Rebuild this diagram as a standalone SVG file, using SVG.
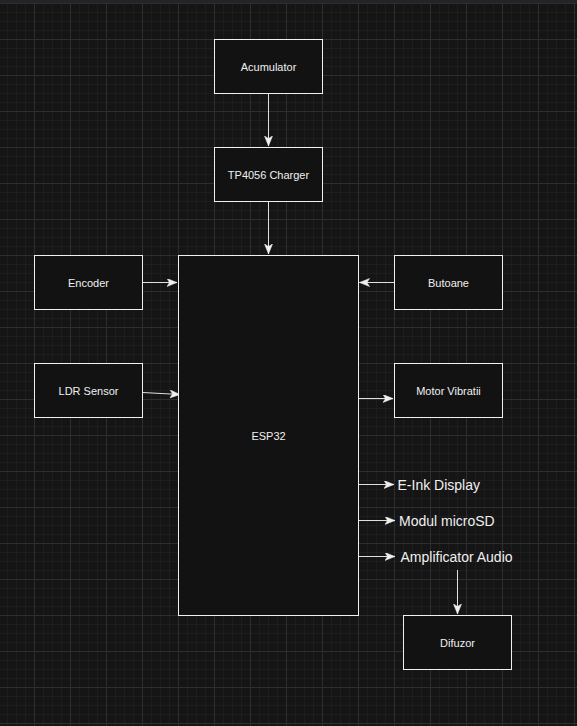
<svg xmlns="http://www.w3.org/2000/svg" width="577" height="726" viewBox="0 0 577 726">
<style>
.box{fill:#121212;stroke:#f0f0f0;stroke-width:1}
.lbl{font-family:"Liberation Sans",Arial,sans-serif;font-size:11px;fill:#f0f0f0;text-anchor:middle;dominant-baseline:central}
.free{font-family:"Liberation Sans",Arial,sans-serif;font-size:14px;fill:#f0f0f0;dominant-baseline:central}
.edge{fill:none;stroke:#e0e0e0;stroke-width:1}
</style>
<defs>
<pattern id="grid" patternUnits="userSpaceOnUse" x="34" y="39" width="36" height="36">
<path d="M9.5 0V36M18.5 0V36M27.5 0V36M0 9.5H36M0 18.5H36M0 27.5H36" stroke="#1d1d1d" stroke-width="1" fill="none"/>
<path d="M0.5 0V36M0 0.5H36" stroke="#2e2e2e" stroke-width="1" fill="none"/>
</pattern>
<marker id="arr" markerUnits="userSpaceOnUse" markerWidth="12" markerHeight="10" refX="10" refY="4" orient="auto">
<path d="M0,0 L10,4 L0,8 L2.5,4 Z" fill="#f0f0f0" stroke="#f0f0f0" stroke-width="0.5"/>
</marker>
</defs>
<rect width="577" height="726" fill="#151515"/>
<rect width="577" height="726" fill="url(#grid)"/>
<rect width="577" height="3" fill="#222428"/>
<g id="connectors">
<path class="edge" d="M268.5 93.5V146" marker-end="url(#arr)"/>
<path class="edge" d="M268.5 201.5V254" marker-end="url(#arr)"/>
<path class="edge" d="M142.5 282.5H177" marker-end="url(#arr)"/>
<path class="edge" d="M142.5 392.5L180 394.5" marker-end="url(#arr)"/>
<path class="edge" d="M394 282.5H359.5" marker-end="url(#arr)"/>
<path class="edge" d="M358.5 398.5H393" marker-end="url(#arr)"/>
<path class="edge" d="M358.5 484.5H394" marker-end="url(#arr)"/>
<path class="edge" d="M358.5 520.5H395" marker-end="url(#arr)"/>
<path class="edge" d="M358.5 556.5H395" marker-end="url(#arr)"/>
<path class="edge" d="M457.5 570V614" marker-end="url(#arr)"/>
</g>
<g id="acumulator"><rect class="box" x="214.5" y="39.5" width="108" height="54"/><text class="lbl" x="268.5" y="66.5">Acumulator</text></g>
<g id="tp4056"><rect class="box" x="214.5" y="147.5" width="108" height="54"/><text class="lbl" x="268.5" y="174.5">TP4056 Charger</text></g>
<g id="esp32"><rect class="box" x="178.5" y="255.5" width="180" height="360"/><text class="lbl" x="268.5" y="435.5">ESP32</text></g>
<g id="encoder"><rect class="box" x="34.5" y="255.5" width="108" height="54"/><text class="lbl" x="88.5" y="282.5">Encoder</text></g>
<g id="ldr"><rect class="box" x="34.5" y="363.5" width="108" height="54"/><text class="lbl" x="88.5" y="390.5">LDR Sensor</text></g>
<g id="butoane"><rect class="box" x="394.5" y="255.5" width="108" height="54"/><text class="lbl" x="448.5" y="282.5">Butoane</text></g>
<g id="motor"><rect class="box" x="394.5" y="363.5" width="108" height="54"/><text class="lbl" x="448.5" y="390.5">Motor Vibratii</text></g>
<g id="eink"><text class="free" x="397.5" y="485">E-Ink Display</text></g>
<g id="microsd"><text class="free" x="399" y="521">Modul microSD</text></g>
<g id="amplificator"><text class="free" x="400.5" y="557">Amplificator Audio</text></g>
<g id="difuzor"><rect class="box" x="403.5" y="615.5" width="108" height="54"/><text class="lbl" x="457.5" y="642.5">Difuzor</text></g>
</svg>
